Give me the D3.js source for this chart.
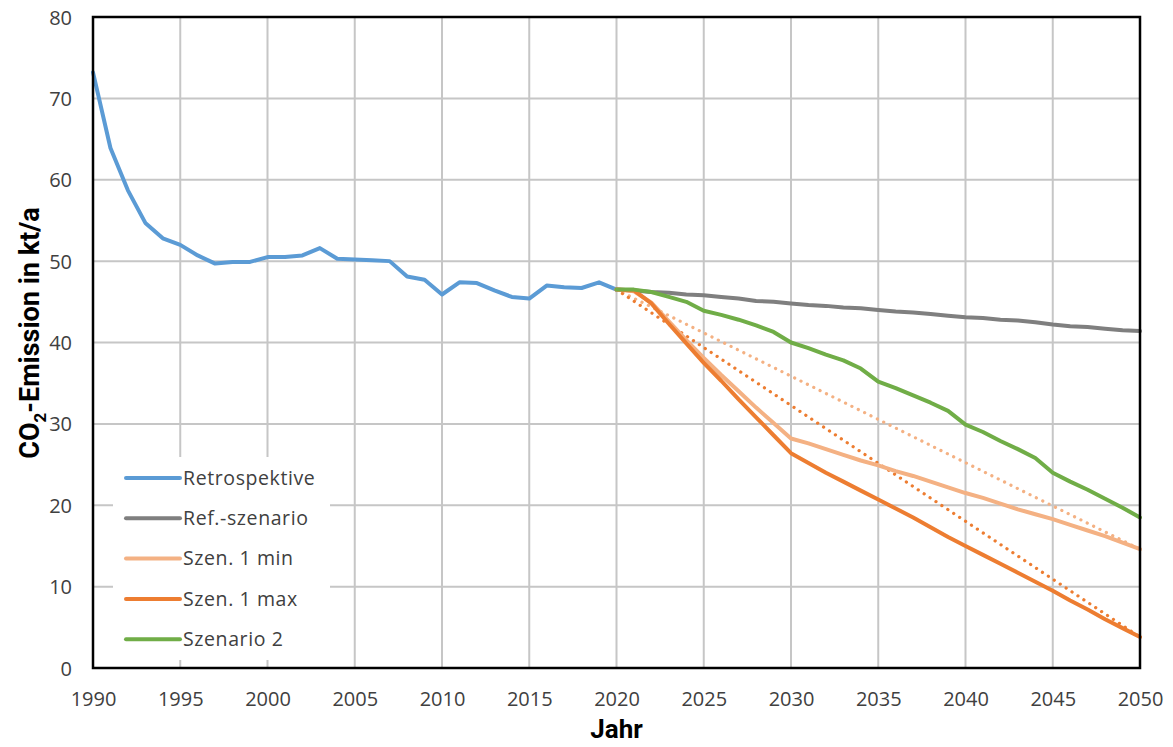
<!DOCTYPE html>
<html>
<head>
<meta charset="utf-8">
<script src="https://cdn.jsdelivr.net/npm/d3@7"></script>
<style>
  html, body { margin: 0; padding: 0; background: #fff; }
  svg { display: block; }
  .tick text { font-family: "Open Sans", "DejaVu Sans", sans-serif; font-size: 20px; fill: #404040; }
</style>
</head>
<body>
<svg id="chart" width="1173" height="747"></svg>
<script>
// Years and tick labels
const retroYears = d3.range(1990, 2021);
const scenYears = d3.range(2020, 2051);
const xTicks = [1990, 1995, 2000, 2005, 2010, 2015, 2020, 2025, 2030, 2035, 2040, 2045, 2050];
const yTicks = [0, 10, 20, 30, 40, 50, 60, 70, 80];

// CO2 emissions in kt/a
const retrospektive = [73.2, 63.9, 58.7, 54.7, 52.8, 52.0, 50.7, 49.7, 49.9, 49.9,
  50.5, 50.5, 50.7, 51.6, 50.3, 50.2, 50.1, 50.0, 48.1, 47.7,
  45.9, 47.4, 47.3, 46.4, 45.6, 45.4, 47.0, 46.8, 46.7, 47.4, 46.5];
const refSzenario = [46.5, 46.4, 46.2, 46.1, 45.9, 45.8, 45.6, 45.4, 45.1, 45.0,
  44.8, 44.6, 44.5, 44.3, 44.2, 44.0, 43.8, 43.7, 43.5, 43.3,
  43.1, 43.0, 42.8, 42.7, 42.5, 42.2, 42.0, 41.9, 41.7, 41.5, 41.4];
const szen1Min = [46.5, 46.3, 44.9, 42.6, 40.3, 38.1, 36.0, 34.0, 32.0, 30.1,
  28.2, 27.6, 26.9, 26.2, 25.5, 24.9, 24.2, 23.6, 22.9, 22.2,
  21.5, 20.9, 20.2, 19.5, 18.9, 18.3, 17.6, 16.9, 16.2, 15.4, 14.6];
const szen1Max = [46.5, 46.4, 44.8, 42.3, 39.9, 37.5, 35.3, 33.0, 30.8, 28.6,
  26.4, 25.2, 24.0, 22.9, 21.8, 20.7, 19.6, 18.5, 17.3, 16.1,
  15.0, 13.9, 12.8, 11.7, 10.6, 9.5, 8.3, 7.2, 6.0, 4.9, 3.8];
const szenario2 = [46.5, 46.5, 46.2, 45.6, 45.0, 43.9, 43.4, 42.8, 42.1, 41.3,
  40.0, 39.3, 38.5, 37.8, 36.8, 35.2, 34.4, 33.5, 32.6, 31.6,
  29.9, 29.0, 27.9, 26.9, 25.8, 24.0, 22.9, 21.9, 20.8, 19.7, 18.5];

// Linear target paths 2020 -> 2050
const trendYears = [2020, 2050];
const trendMin = [46.5, 14.6];
const trendMax = [46.5, 3.8];

const seriesNames = ["Retrospektive", "Ref.-szenario", "Szen. 1 min", "Szen. 1 max", "Szenario 2"];
const seriesColors = ["#5B9BD5", "#7F7F7F", "#F4B183", "#ED7D31", "#70AD47"];

const svg = d3.select("#chart");
const W = 1173, H = 747;
const margin = { top: 17, right: 33, bottom: 79, left: 93 };
const iw = W - margin.left - margin.right;
const ih = H - margin.top - margin.bottom;

const x = d3.scaleLinear().domain([1990, 2050]).range([0, iw]);
const y = d3.scaleLinear().domain([0, 80]).range([ih, 0]);

const g = svg.append("g").attr("transform", `translate(${margin.left},${margin.top})`);

// Gridlines
g.append("g").selectAll("line.vg").data(xTicks.slice(1, -1)).join("line")
  .attr("x1", d => x(d)).attr("x2", d => x(d)).attr("y1", 0).attr("y2", ih)
  .attr("stroke", "#C6C6C6").attr("stroke-width", 2);
g.append("g").selectAll("line.hg").data(yTicks.slice(1, -1)).join("line")
  .attr("x1", 0).attr("x2", iw).attr("y1", d => y(d)).attr("y2", d => y(d))
  .attr("stroke", "#C6C6C6").attr("stroke-width", 2);

// Axes
const xAxis = g.append("g").attr("transform", `translate(0,${ih})`)
  .call(d3.axisBottom(x).tickValues(xTicks).tickFormat(d3.format("d")).tickSize(0).tickPadding(0));
xAxis.select(".domain").remove();
xAxis.selectAll(".tick text").attr("dy", null).attr("y", 38);
const yAxis = g.append("g")
  .call(d3.axisLeft(y).tickValues(yTicks).tickSize(0).tickPadding(21));
yAxis.select(".domain").remove();
yAxis.selectAll(".tick text").attr("dy", "0.35em");

const line = d3.line().x(d => x(d[0])).y(d => y(d[1]));

function drawSeries(years, values, color, extra) {
  const p = g.append("path")
    .datum(years.map((yr, i) => [yr, values[i]]))
    .attr("d", line)
    .attr("fill", "none")
    .attr("stroke", color)
    .attr("stroke-width", 4)
    .attr("stroke-linejoin", "round")
    .attr("stroke-linecap", "round");
  if (extra) extra(p);
  return p;
}

const dotted = p => p.attr("stroke-width", 3.2).attr("stroke-dasharray", "0.1 7");

drawSeries(trendYears, trendMin, "#F4B183", dotted);
drawSeries(trendYears, trendMax, "#ED7D31", dotted);
drawSeries(retroYears, retrospektive, seriesColors[0]);
drawSeries(scenYears, refSzenario, seriesColors[1]);
drawSeries(scenYears, szen1Min, seriesColors[2]);
drawSeries(scenYears, szen1Max, seriesColors[3]);
drawSeries(scenYears, szenario2, seriesColors[4]);

// Plot frame
g.append("rect").attr("x", 0).attr("y", 0).attr("width", iw).attr("height", ih)
  .attr("fill", "none").attr("stroke", "#000").attr("stroke-width", 2.5);

// Legend
const legend = g.append("g").attr("transform", "translate(20,440)");
legend.append("rect").attr("x", 0).attr("y", 0).attr("width", 217).attr("height", 203).attr("fill", "#fff");
const items = legend.selectAll("g.item").data(seriesNames).join("g")
  .attr("transform", (d, i) => `translate(0,${21 + i * 40.3})`);
items.append("line").attr("x1", 13).attr("x2", 67).attr("y1", 0).attr("y2", 0)
  .attr("stroke", (d, i) => seriesColors[i]).attr("stroke-width", 4).attr("stroke-linecap", "round");
items.append("text").attr("x", 70).attr("y", 0).attr("dy", "0.35em")
  .attr("font-family", "'Open Sans', 'DejaVu Sans', sans-serif")
  .attr("font-size", 19.5).attr("letter-spacing", 0.6).attr("fill", "#404040")
  .text(d => d);

// Axis titles
svg.append("text")
  .attr("x", margin.left + x(2020)).attr("y", 738)
  .attr("text-anchor", "middle")
  .attr("font-family", "'Liberation Sans Narrow', 'Roboto', sans-serif")
  .attr("font-weight", "bold").attr("font-size", 26).attr("fill", "#000")
  .text("Jahr");

const yTitle = svg.append("text")
  .attr("transform", `translate(39,333) rotate(-90)`)
  .attr("text-anchor", "middle")
  .attr("font-family", "'Liberation Sans Narrow', 'Roboto', sans-serif")
  .attr("font-weight", "bold").attr("font-size", 27).attr("fill", "#000");
yTitle.append("tspan").text("CO");
yTitle.append("tspan").attr("font-size", 17).attr("dy", 7).text("2");
yTitle.append("tspan").attr("dy", -7).text("-Emission in kt/a");
</script>
</body>
</html>
